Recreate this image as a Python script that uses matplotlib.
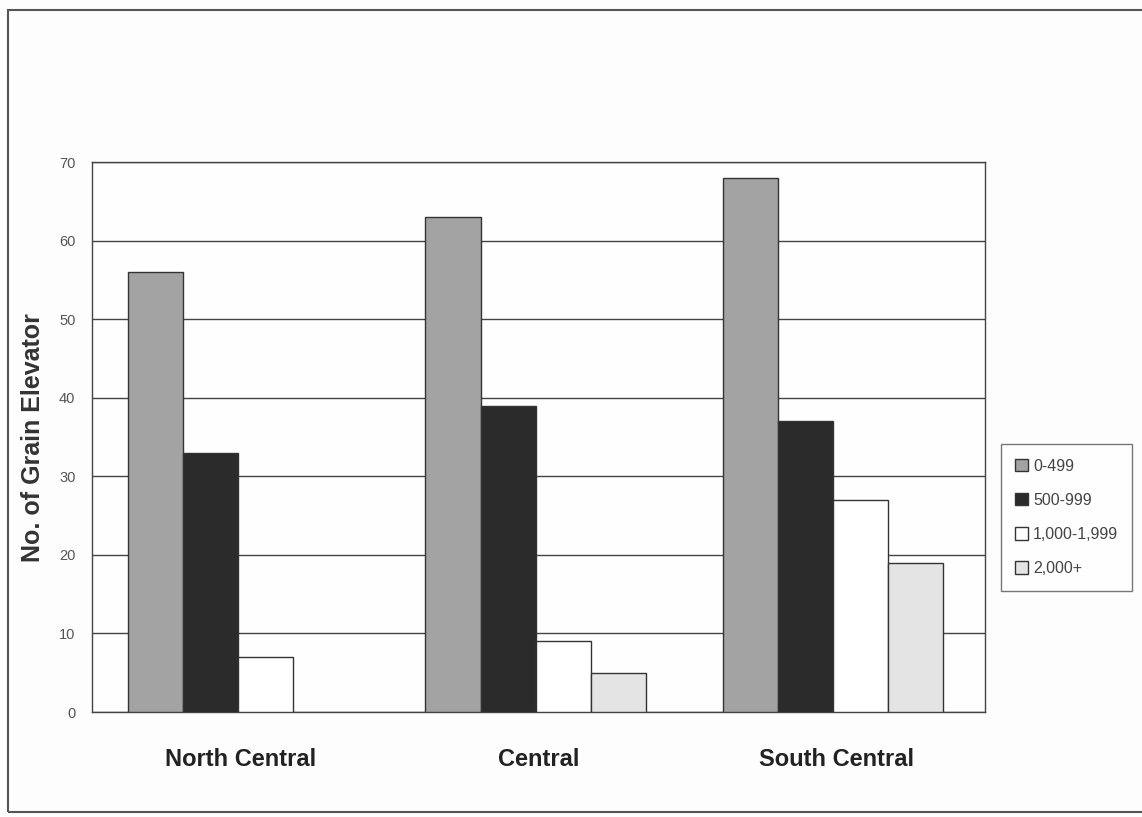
import matplotlib
matplotlib.use("Agg")
import matplotlib.pyplot as plt
import numpy as np
from matplotlib.patches import Rectangle, Patch

plt.rcParams['font.family'] = ['Liberation Sans', 'DejaVu Sans']

regions = ["North Central", "Central", "South Central"]
series = ["0-499", "500-999", "1,000-1,999", "2,000+"]
v_0_499 = [56, 63, 68]
v_500_999 = [33, 39, 37]
v_1000_1999 = [7, 9, 27]
v_2000_plus = [0, 5, 19]
yticks = [0, 10, 20, 30, 40, 50, 60, 70]

values = [v_0_499, v_500_999, v_1000_1999, v_2000_plus]
colors = ["#a3a3a3", "#2b2b2b", "#ffffff", "#e4e4e4"]

fig = plt.figure(figsize=(11.42, 8.17), dpi=100)
fig.patch.set_facecolor("#fdfdfe")
ax = fig.add_axes([0.0806, 0.1285, 0.782, 0.673])
ax.set_facecolor("#fefefe")

x = np.arange(len(regions))
w = 0.185
for i, (vals, c) in enumerate(zip(values, colors)):
    lws = [1.0 if v > 0 else 0 for v in vals]
    ax.bar(x + (i - 1.5) * w - 0.01, vals, w, color=c, edgecolor="#333333",
           linewidth=lws, zorder=3)

ax.set_xlim(-0.5, 2.5)
ax.set_ylim(0, 70)
ax.set_yticks(yticks)
ax.yaxis.grid(True, color="#444444", linewidth=1.0, zorder=0)
ax.tick_params(axis="y", labelsize=10.5, colors="#555555", length=0, pad=12)
ax.tick_params(axis="x", length=0, pad=26)
ax.set_xticks(x)
ax.set_xticklabels(regions, fontsize=17, fontweight="bold", color="#222222")
for s in ax.spines.values():
    s.set_color("#444444")
    s.set_linewidth(1.0)
ax.set_ylabel("No. of Grain Elevator", fontsize=18, fontweight="bold",
              color="#333333", labelpad=10)

handles = [Patch(facecolor=c, edgecolor="#333333", linewidth=1.0) for c in colors]
leg = fig.legend(handles=handles, labels=series, loc="upper left",
                 bbox_to_anchor=(0.8695, 0.466), fontsize=11.5, frameon=True,
                 fancybox=False, edgecolor="#555555", handlelength=0.8,
                 handleheight=0.8, handletextpad=0.3, labelspacing=1.2,
                 borderpad=0.9)
leg.get_frame().set_linewidth(1.0)
for t in leg.get_texts():
    t.set_color("#444444")

# scanned page frame
fig.patches.append(Rectangle((0.007, 0.006), 1.2, 0.982, transform=fig.transFigure,
                             fill=False, edgecolor="#555555", linewidth=1.5))

fig.savefig("out.png", dpi=100, facecolor=fig.get_facecolor())
